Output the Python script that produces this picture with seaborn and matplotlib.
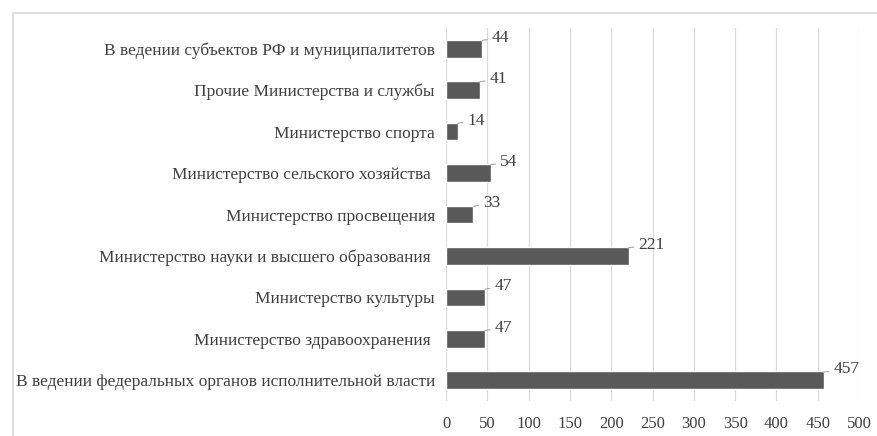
import matplotlib
matplotlib.use("Agg")
import matplotlib.pyplot as plt
import seaborn as sns
import pandas as pd
from matplotlib.patches import Rectangle

categories = [
    "В ведении субъектов РФ и муниципалитетов",
    "Прочие Министерства и службы",
    "Министерство спорта",
    "Министерство сельского хозяйства ",
    "Министерство просвещения",
    "Министерство науки и высшего образования ",
    "Министерство культуры",
    "Министерство здравоохранения ",
    "В ведении федеральных органов исполнительной власти",
]
values = [44, 41, 14, 54, 33, 221, 47, 47, 457]
x_ticks = list(range(0, 501, 50))

df = pd.DataFrame({"category": categories, "value": values})

sns.set_style("white")
plt.rcParams["font.family"] = ["Liberation Serif", "DejaVu Serif"]
text_color = "#404040"

fig = plt.figure(figsize=(8.77, 4.36), dpi=100)
ax = fig.add_axes([0.5086, 0.080, 0.4709, 0.856])

sns.barplot(data=df, x="value", y="category", color="#595959",
            saturation=1, width=0.43, ax=ax)

ax.set_xlim(0, 500)
ax.set_xticks(x_ticks)
ax.set_xticklabels([str(t) for t in x_ticks], fontsize=12, color=text_color)
ax.set_yticklabels(categories, fontsize=12.5, color=text_color)
ax.set_xlabel("")
ax.set_ylabel("")
ax.tick_params(axis="y", length=0, pad=8)
ax.tick_params(axis="x", length=0, pad=11)
ax.xaxis.grid(True, color="#d9d9d9", lw=0.9)
ax.set_axisbelow(True)
for s in ax.spines.values():
    s.set_visible(False)

# data labels with short leader lines
for i, v in enumerate(values):
    ax.annotate(str(v), xy=(v, i - 0.2), xytext=(7, 2),
                textcoords="offset points", ha="left", va="center",
                fontsize=12.5, color=text_color,
                arrowprops=dict(arrowstyle="-", color="#a6a6a6", lw=0.8,
                                shrinkA=1, shrinkB=0))

fig.patches.append(Rectangle((13 / 877, -0.05), 1.0, 1 - 13 / 436 + 0.05,
                             transform=fig.transFigure, fill=False,
                             edgecolor="#d9d9d9", lw=1.2))

fig.savefig("out.png", dpi=100)
